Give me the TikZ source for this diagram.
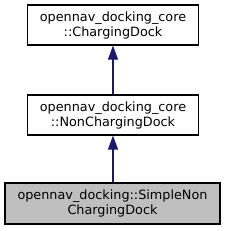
\documentclass[tikz,border=0pt]{standalone}
\usepackage{fontspec}
\setmainfont{DejaVu Sans}
\usetikzlibrary{arrows.meta}
\definecolor{edgeblue}{HTML}{191970}
\definecolor{boxgray}{HTML}{BFBFBF}
\begin{document}
\begin{tikzpicture}[x=1pt,y=-1pt,
  cls/.style={draw=black, line width=1.1pt, inner sep=0pt, align=center,
    font=\fontsize{12.8}{15}\selectfont},
  inh/.style={draw=edgeblue, line width=1.1pt, -{Triangle[length=14pt,width=10pt,fill=edgeblue,color=edgeblue]}}]
\useasboundingbox (0,0) rectangle (225,231);
\node[cls, minimum width=171pt, minimum height=40pt] (a) at (113,25) {opennav\_docking\_core\\::ChargingDock};
\node[cls, minimum width=171pt, minimum height=40pt] (b) at (113,115) {opennav\_docking\_core\\::NonChargingDock};
\node[cls, fill=boxgray, minimum width=215pt, minimum height=41pt] (c) at (112.5,203.5) {opennav\_docking::SimpleNon\\ChargingDock};
\draw[inh] (b.north -| a.south) -- (a.south);
\draw[inh] (c.north -| b.south) -- (b.south);
\end{tikzpicture}
\end{document}
